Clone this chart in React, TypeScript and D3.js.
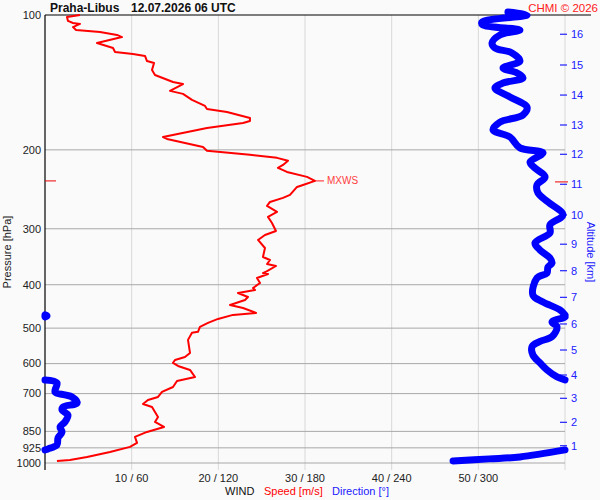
import React from "react";
import * as d3 from "d3";

// Wind speed profile [m/s] vs pressure [hPa] (top to bottom)
const speedPressure = [100, 101.0, 103.1, 104.2, 104.7, 106.4, 108.0, 109.1, 110.8, 112.0, 115.5, 118.5, 120.9, 122.2, 123.4, 126.7, 128.0, 132.6, 136.1, 141.1, 142.6, 147.7, 150.0, 154.7, 159.6, 162.1, 164.6, 169.8, 172.5, 174.2, 178.8, 187.2, 189.1, 197.0, 201.0, 205.2, 208.4, 211.6, 216.1, 219.4, 224.0, 229.8, 234.6, 239.5, 242.0, 252.1, 256.0, 261.4, 266.8, 275.1, 282.3, 291.2, 303.4, 309.7, 317.8, 331.2, 346.9, 352.3, 359.6, 363.3, 372.8, 376.7, 378.6, 386.5, 396.5, 406.8, 410.9, 417.3, 426.0, 432.6, 443.8, 450.7, 462.4, 467.1, 476.9, 486.7, 496.7, 509.6, 512.2, 531.1, 568.0, 579.8, 588.8, 597.9, 607.2, 619.8, 642.6, 656.0, 676.6, 694.1, 712.1, 723.2, 738.2, 749.7, 769.2, 789.2, 809.7, 830.8, 852.4, 874.5, 901.8, 920.6, 944.6, 969.2, 984.2, 989.3];
const speedValues = [4.04, 2.54, 2.65, 3.23, 4.04, 3.23, 3.58, 6.35, 8.31, 8.88, 6.0, 7.85, 8.08, 10.15, 11.54, 11.77, 12.58, 12.35, 12.69, 14.77, 15.92, 14.42, 15.92, 16.96, 18.46, 18.69, 21.0, 23.65, 23.65, 22.85, 18.69, 13.62, 14.08, 18.23, 18.69, 23.65, 26.77, 28.04, 27.46, 26.88, 27.92, 30.23, 31.15, 29.77, 29.08, 28.27, 27.46, 25.96, 25.62, 26.77, 25.73, 26.19, 26.65, 25.38, 24.58, 25.38, 25.15, 25.96, 25.62, 26.65, 25.62, 25.15, 25.73, 24.46, 24.81, 24.0, 24.23, 22.27, 23.42, 23.08, 21.35, 22.85, 24.35, 21.69, 19.96, 18.81, 17.88, 17.65, 16.96, 16.5, 16.73, 16.15, 15.0, 14.77, 15.35, 16.73, 17.31, 15.23, 14.77, 13.5, 13.04, 11.88, 11.31, 12.35, 12.69, 13.04, 12.69, 13.73, 11.77, 10.38, 10.62, 9.81, 7.5, 4.85, 2.88, 1.38];

// Wind direction profile [deg] vs pressure [hPa] (top to bottom)
const dirPressure = [98.5, 100, 103.7, 105.3, 108.0, 110.8, 115.5, 118.5, 121.5, 126.7, 131.3, 134.7, 138.2, 141.9, 145.5, 152.4, 160.4, 167.2, 173.4, 180.6, 187.2, 198.0, 203.1, 212.9, 219.6, 229.8, 239.5, 249.5, 261.4, 279.5, 294.0, 306.5, 322.7, 334.7, 348.7, 357.7, 365.2, 376.7, 386.5, 422.0, 437.1, 455.4, 467.1, 469.5, 474.4, 484.2, 496.7, 522.4, 535.4, 549.3, 574.1, 598.0, 619.8, 642.6, 652.5, 662.6, 694.1, 704.9, 712.1, 734.4, 749.7, 761.4, 781.4, 809.7, 830.8, 852.4, 879.0, 911.2, 930.1, 934.9, 969.2, 979.0, 989.3];
const dirValues = [320.5, 333.7, 302.5, 303.2, 328.8, 315.0, 309.5, 311.5, 323.3, 328.8, 317.1, 326.8, 330.9, 317.1, 311.5, 321.9, 333.7, 330.9, 315.0, 310.2, 321.9, 328.8, 344.8, 335.8, 339.2, 346.2, 340.6, 341.3, 348.2, 358.6, 349.6, 349.6, 339.2, 342.7, 349.6, 351.0, 348.2, 347.5, 340.6, 337.8, 344.8, 356.5, 360, 1.4, 358.6, 351.0, 354.5, 351.0, 342.7, 337.2, 337.8, 342.7, 347.5, 354.5, 360, 8.3, 6.9, 13.8, 18.7, 22.2, 12.5, 11.8, 15.9, 13.8, 10.4, 11.8, 9.0, 8.3, 2.1, 360, 328.8, 307.6, 282.5];

const pressureTicks = [100, 200, 300, 400, 500, 600, 700, 850, 925, 1000];
const speedTicks = [10, 20, 30, 40, 50];
const dirTicks = [60, 120, 180, 240, 300];
const altitudeKm = [1, 2, 3, 4, 5, 6, 7, 8, 9, 10, 11, 12, 13, 14, 15, 16];
const altitudePressure = [915.0, 811.3, 717.1, 636.2, 559.5, 489.4, 426.8, 372.2, 324.8, 279.5, 238.7, 204.6, 176.0, 150.9, 129.3, 110.4];
const maxWind = { pressure: 234.6, speed: 31.15, label: "MXWS" };

const W = 600, H = 500;
const L = 45, R = 565, T = 15, B = 463;
const FONT = "'Liberation Sans', Arial, sans-serif";

type Pt = { d: number; p: number };

function splitWrap(pts: Pt[]): Pt[][] {
  const segs: Pt[][] = [];
  let cur: Pt[] = [pts[0]];
  for (let i = 1; i < pts.length; i++) {
    const a = pts[i - 1], b = pts[i];
    const diff = b.d - a.d;
    if (Math.abs(diff) > 180) {
      const la = Math.log(a.p), lb = Math.log(b.p);
      if (diff < 0) {
        const bu = b.d + 360;
        const t = (360 - a.d) / (bu - a.d);
        const pc = Math.exp(la + t * (lb - la));
        cur.push({ d: 360, p: pc });
        segs.push(cur);
        cur = [{ d: 0, p: pc }, b];
      } else {
        const bu = b.d - 360;
        const t = a.d / (a.d - bu);
        const pc = Math.exp(la + t * (lb - la));
        cur.push({ d: 0, p: pc });
        segs.push(cur);
        cur = [{ d: 360, p: pc }, b];
      }
    } else {
      cur.push(b);
    }
  }
  segs.push(cur);
  return segs;
}

export default function App() {
  const x = d3.scaleLinear().domain([0, 60]).range([L, R]);
  const xd = d3.scaleLinear().domain([0, 360]).range([L, R]);
  const y = d3.scaleLog().domain([100, 1000]).range([T, B]);

  const speedLine = d3
    .line<number>()
    .x((_, i) => x(speedValues[i]))
    .y((_, i) => y(speedPressure[i]));
  const speedPath = speedLine(speedValues) || "";

  const dirPts: Pt[] = dirValues.map((d, i) => ({ d, p: dirPressure[i] }));
  const dirSegs = splitWrap(dirPts);
  const dirLine = d3
    .line<Pt>()
    .x((p) => xd(p.d))
    .y((p) => y(p.p))
    .curve(d3.curveCatmullRom.alpha(0.5));

  const ym = y(maxWind.pressure);

  return (
    <svg
      width={W}
      height={H}
      style={{ position: "fixed", left: 0, top: 0, background: "#fafafa" }}
      fontFamily={FONT}
    >
      <rect x={0} y={0} width={W} height={H} fill="#fafafa" />
      {/* vertical grid */}
      {speedTicks.map((s) => (
        <line key={"v" + s} x1={x(s)} x2={x(s)} y1={T} y2={B + 7} stroke="#d8d8d8" strokeWidth={1} />
      ))}
      <line x1={R} x2={R} y1={T} y2={B + 7} stroke="#d8d8d8" strokeWidth={1} />
      {/* horizontal grid */}
      {pressureTicks.filter((p) => p !== 100).map((p) => (
        <line key={"h" + p} x1={L} x2={R} y1={y(p)} y2={y(p)} stroke="#a8a8a8" strokeWidth={1} />
      ))}
      {/* axes */}
      <line x1={L} x2={591} y1={T} y2={T} stroke="#000" strokeWidth={1.2} />
      <line x1={L} x2={L} y1={T} y2={B + 7} stroke="#000" strokeWidth={1.2} />

      {/* pressure labels */}
      {pressureTicks.map((p) => (
        <text key={"pl" + p} x={41} y={y(p)} dy="0.35em" textAnchor="end" fontSize={11} fill="#222">
          {p}
        </text>
      ))}
      <text
        transform={`translate(11,${(T + B) / 2 + 13}) rotate(-90)`}
        textAnchor="middle"
        fontSize={11}
        fill="#222"
      >
        Pressure [hPa]
      </text>

      {/* bottom labels */}
      {speedTicks.map((s, i) => (
        <text key={"bl" + s} x={x(s)} y={482} textAnchor="middle" fontSize={11} fill="#222">
          {`${s} / ${dirTicks[i]}`}
        </text>
      ))}
      <text x={225} y={495} fontSize={11} fill="#111">WIND</text>
      <text x={264} y={495} fontSize={11} fill="#ff0000">Speed [m/s]</text>
      <text x={332} y={495} fontSize={11} fill="#2020ff">Direction [°]</text>

      {/* altitude axis */}
      {altitudeKm.map((k, i) => (
        <g key={"a" + k}>
          <line x1={R - 5} x2={R + 2} y1={y(altitudePressure[i])} y2={y(altitudePressure[i])} stroke="#2020ff" strokeWidth={1.2} />
          <text x={571} y={y(altitudePressure[i])} dy="0.36em" fontSize={11} fill="#2020ff">
            {k}
          </text>
        </g>
      ))}
      <text
        transform={`translate(587,${(T + B) / 2 + 13}) rotate(90)`}
        textAnchor="middle"
        fontSize={11}
        fill="#2020ff"
      >
        Altitude [km]
      </text>

      {/* direction */}
      {dirSegs.map((seg, i) => (
        <path
          key={"ds" + i}
          d={dirLine(seg) || ""}
          fill="none"
          stroke="#0000ff"
          strokeWidth={7}
          strokeLinecap="round"
          strokeLinejoin="round"
        />
      ))}

      {/* speed */}
      <path d={speedPath} fill="none" stroke="#ff0000" strokeWidth={2} strokeLinejoin="round" />

      {/* max wind markers */}
      <line x1={L} x2={L + 11} y1={ym} y2={ym} stroke="#ee0000" strokeWidth={1} />
      <line x1={R - 10} x2={R + 3} y1={ym + 1} y2={ym + 1} stroke="#ee0000" strokeWidth={1} />
      <line x1={x(maxWind.speed)} x2={x(maxWind.speed) + 9} y1={ym} y2={ym} stroke="#ff2020" strokeWidth={1} />
      <text x={x(maxWind.speed) + 12} y={ym} dy="0.35em" fontSize={10} fill="#ff4040">
        {maxWind.label}
      </text>

      {/* titles */}
      <text x={50} y={12} fontSize={12} fontWeight="bold" fill="#111">Praha-Libus</text>
      <text x={131} y={12} fontSize={12} fontWeight="bold" fill="#111">12.07.2026 06 UTC</text>
      <text x={598} y={12} textAnchor="end" fontSize={11.5} fill="#ff2020">CHMI © 2026</text>
    </svg>
  );
}
